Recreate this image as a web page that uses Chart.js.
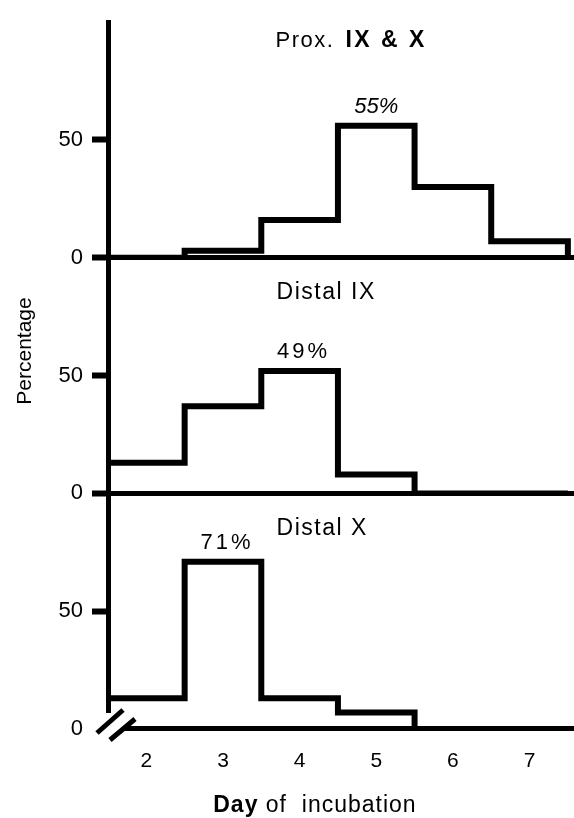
<!DOCTYPE html>
<html>
<head>
<meta charset="utf-8">
<title>Day of incubation</title>
<script src="https://cdn.jsdelivr.net/npm/chart.js@4.4.1/dist/chart.umd.min.js"></script>
<style>
  html, body { margin: 0; padding: 0; background: #fff; }
  #wrap { width: 574px; height: 818px; }
</style>
</head>
<body>
<div id="wrap"><canvas id="incubationChart"></canvas></div>
<script>
// days of incubation (x categories)
var days = [2, 3, 4, 5, 6, 7];
// percentage per day, one list per panel (top to bottom)
var proxIXandX = [0, 3, 16, 56, 30, 7];
var distalIX = [13, 37, 52, 8, 0, 0];
var distalX = [13, 71, 13, 7, 0, 0];
var panelNames = ['Prox. IX & X', 'Distal IX', 'Distal X'];
var peakLabels = ['55%', '49%', '71%'];
var yTicks = [0, 50];

var FONT = "'Liberation Sans', Arial, sans-serif";

// histogram outline: each day is a bin from day-0.5 to day+0.5
function outline(values) {
  var pts = [{x: days[0] - 0.5, y: 0}];
  values.forEach(function(v, i) {
    pts.push({x: days[i] - 0.5, y: v});
    pts.push({x: days[i] + 0.5, y: v});
  });
  pts.push({x: days[days.length - 1] + 0.5, y: 0});
  return pts;
}

function series(values, axisId) {
  return {
    data: outline(values),
    yAxisID: axisId,
    borderColor: '#000',
    borderWidth: 6,
    borderJoinStyle: 'miter',
    pointRadius: 0,
    fill: false,
    tension: 0
  };
}

function panelAxis(zeroTick) {
  return {
    type: 'linear',
    position: 'left',
    stack: 'panels',
    stackWeight: 1,
    min: 0,
    max: 100,
    afterBuildTicks: function(s) { s.ticks = yTicks.map(function(v) { return {value: v}; }); },
    afterFit: function(s) { s.width = 108; },
    border: { display: true, color: '#000', width: 5 },
    grid: {
      drawOnChartArea: true,
      color: function(c) { return c.tick && c.tick.value === 0 ? '#000' : 'rgba(0,0,0,0)'; },
      lineWidth: 5,
      tickLength: 16,
      tickWidth: 6,
      tickColor: function(c) { return (!zeroTick && c.tick && c.tick.value === 0) ? 'rgba(0,0,0,0)' : '#000'; }
    },
    ticks: { padding: 9, color: '#000', font: { family: FONT, size: 22 } }
  };
}

function spacedText(ctx, text, x, y, spacing) {
  ctx.letterSpacing = spacing + 'px';
  ctx.fillText(text, x, y);
  ctx.letterSpacing = '0px';
}

// panel names, peak percentages, axis titles and the axis break
var labelsPlugin = {
  id: 'panelLabels',
  afterDraw: function(chart) {
    var ctx = chart.ctx;
    var x = chart.scales.x;
    var axes = ['y1', 'y2', 'y3'];
    var allValues = [proxIXandX, distalIX, distalX];
    var titleAt = [92, 85, 85];
    ctx.save();
    ctx.fillStyle = '#000';
    ctx.textBaseline = 'middle';

    axes.forEach(function(id, p) {
      var y = chart.scales[id];
      var vals = allValues[p];
      var top = Math.max.apply(null, vals);
      var i = vals.indexOf(top);
      // peak label
      ctx.textAlign = 'center';
      ctx.font = (p === 0 ? 'italic ' : '') + '22px ' + FONT;
      spacedText(ctx, peakLabels[p], x.getPixelForValue(days[i]) + (p === 0 ? 0 : 4), y.getPixelForValue(top) - 19, p === 0 ? 0 : 3);
      // panel name
      ctx.textAlign = 'left';
      var tx = x.getPixelForValue(3.7);
      var ty = y.getPixelForValue(titleAt[p]);
      var name = panelNames[p];
      if (name.indexOf('Prox.') === 0) {
        ctx.font = '22px ' + FONT;
        spacedText(ctx, 'Prox.', tx - 1, ty, 1.5);
        ctx.letterSpacing = '1.5px';
        var w = ctx.measureText('Prox.').width;
        ctx.letterSpacing = '0px';
        ctx.font = 'bold 23px ' + FONT;
        spacedText(ctx, name.slice(6), tx + w + 10, ty, 2.5);
      } else {
        ctx.font = '23px ' + FONT;
        spacedText(ctx, name, tx, ty, 1.5);
      }
    });

    // y axis title
    ctx.save();
    ctx.translate(25, 351);
    ctx.rotate(-Math.PI / 2);
    ctx.textAlign = 'center';
    ctx.font = '21px ' + FONT;
    ctx.fillText('Percentage', 0, 0);
    ctx.restore();

    // x axis title with bold "Day"
    ctx.font = 'bold 23px ' + FONT;
    ctx.letterSpacing = '1px';
    var w1 = ctx.measureText('Day').width;
    ctx.font = '23px ' + FONT;
    var w2 = ctx.measureText(' of  incubation').width;
    ctx.letterSpacing = '0px';
    var cx = x.getPixelForValue(4.2) - (w1 + w2) / 2;
    ctx.textAlign = 'left';
    ctx.font = 'bold 23px ' + FONT;
    spacedText(ctx, 'Day', cx, 806, 1);
    ctx.font = '23px ' + FONT;
    spacedText(ctx, ' of  incubation', cx + w1, 806, 1);

    // axis break at the origin of the bottom panel
    var y3 = chart.scales.y3;
    var ox = x.left;
    var oy = y3.getPixelForValue(0);
    ctx.fillStyle = '#fff';
    ctx.fillRect(ox - 4, oy - 16, 19, 22);
    ctx.strokeStyle = '#000';
    ctx.lineWidth = 5;
    ctx.beginPath();
    ctx.moveTo(ox - 11, oy + 4);
    ctx.lineTo(ox + 15, oy - 19);
    ctx.moveTo(ox + 2, oy + 11);
    ctx.lineTo(ox + 27, oy - 10);
    ctx.stroke();
    ctx.restore();
  }
};

window.onload = function() {
  var ctx = document.getElementById('incubationChart').getContext('2d');
  new Chart(ctx, {
    type: 'line',
    data: {
      datasets: [
        series(proxIXandX, 'y1'),
        series(distalIX, 'y2'),
        series(distalX, 'y3')
      ]
    },
    options: {
      responsive: true,
      maintainAspectRatio: false,
      devicePixelRatio: 1,
      animation: false,
      layout: { padding: { top: 10, right: 0, bottom: 0, left: 0 } },
      plugins: {
        legend: { display: false },
        tooltip: { enabled: false }
      },
      scales: {
        x: {
          type: 'linear',
          min: 1.5,
          max: 7.58,
          afterBuildTicks: function(s) { s.ticks = days.map(function(v) { return {value: v}; }); },
          afterFit: function(s) { s.height = 89; },
          grid: { display: false, drawTicks: false },
          border: { display: false },
          ticks: { padding: 20, color: '#000', font: { family: FONT, size: 21 } }
        },
        // stacked panels are placed bottom-up, so the lowest panel comes first
        y3: panelAxis(false),
        y2: panelAxis(true),
        y1: panelAxis(true)
      }
    },
    plugins: [labelsPlugin]
  });
};
</script>
</body>
</html>
